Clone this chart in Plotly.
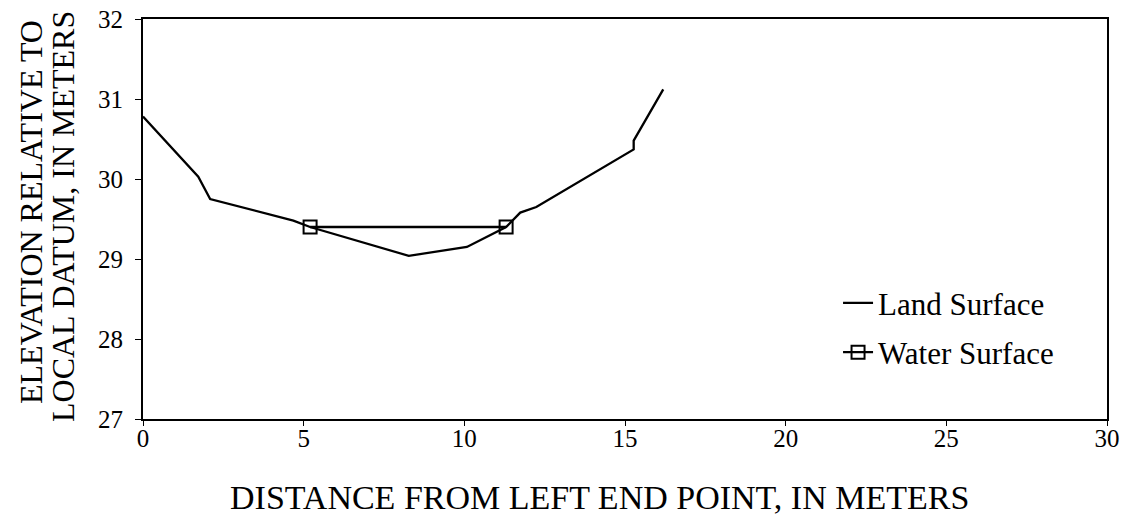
import plotly.graph_objects as go

land_x = [0.0, 1.72, 2.09, 4.68, 5.2, 8.27, 10.08, 11.3, 11.74, 12.24, 15.27, 15.27, 16.19]
land_y = [30.78, 30.03, 29.75, 29.48, 29.40, 29.04, 29.15, 29.40, 29.58, 29.65, 30.37, 30.48, 31.12]

water_x = [5.2, 11.3]
water_y = [29.40, 29.40]

x_ticks = [0, 5, 10, 15, 20, 25, 30]
y_ticks = [27, 28, 29, 30, 31, 32]

x_title = "DISTANCE FROM LEFT END POINT, IN METERS"
y_title_lines = ["ELEVATION RELATIVE TO", "LOCAL DATUM, IN METERS"]

FONT = "Liberation Serif"

fig = go.Figure()
fig.add_trace(go.Scatter(x=land_x, y=land_y, mode="lines", name="Land Surface",
                         legendgroup="a",
                         line=dict(color="black", width=2.3)))
fig.add_trace(go.Scatter(x=water_x, y=water_y, mode="lines+markers", name="Water Surface",
                         legendgroup="b",
                         line=dict(color="black", width=2.3),
                         marker=dict(symbol="square-open", size=13, color="black",
                                     line=dict(width=2, color="black"))))

plot_left, plot_w, plot_bottom, plot_h = 143, 964, 419, 400
for txt, px, py in zip(y_title_lines, [31, 63], [212, 217]):
    fig.add_annotation(text=txt, xref="paper", yref="paper",
                       x=(px - plot_left) / plot_w, y=(plot_bottom - py) / plot_h,
                       xanchor="center", yanchor="middle", textangle=-90,
                       showarrow=False, font=dict(family=FONT, size=32, color="black"))

fig.add_annotation(text=x_title, xref="paper", yref="paper",
                   x=(599 - plot_left) / plot_w, y=(plot_bottom - 497) / plot_h,
                   xanchor="center", yanchor="middle", showarrow=False,
                   font=dict(family=FONT, size=34, color="black"))

fig.update_layout(
    width=1127, height=529,
    margin=dict(l=143, r=20, t=19, b=110),
    paper_bgcolor="white", plot_bgcolor="white",
    font=dict(family=FONT, color="black", size=26),
    showlegend=True,
    legend=dict(x=0.721, y=0.357, xanchor="left", yanchor="top",
                font=dict(family=FONT, size=31, color="black"),
                bgcolor="rgba(0,0,0,0)", tracegroupgap=6),
    xaxis=dict(range=[0, 30], tickvals=x_ticks, showline=True, linecolor="black", linewidth=2,
               mirror=True, ticks="outside", ticklen=5, tickcolor="black", showgrid=False,
               zeroline=False, tickfont=dict(size=25), automargin=False,
               ticklabelstandoff=-9),
    yaxis=dict(range=[27, 32], tickvals=y_ticks, showline=True, linecolor="black", linewidth=2,
               mirror=True, ticks="outside", ticklen=6, tickcolor="black", showgrid=False,
               zeroline=False, tickfont=dict(size=25), automargin=False,
               ticklabelstandoff=7),
)

fig.write_html("out.html", config={"displayModeBar": False})

with open("out.html", "r", encoding="utf-8") as f:
    html = f.read()
html = html.replace("<head>", "<head><style>html,body{margin:0;padding:0;}</style>", 1)
with open("out.html", "w", encoding="utf-8") as f:
    f.write(html)
